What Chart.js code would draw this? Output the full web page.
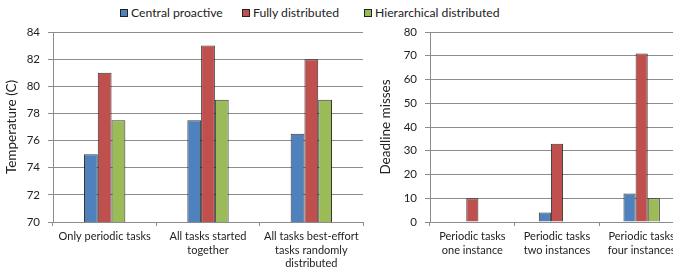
<!DOCTYPE html>
<html>
<head>
<meta charset="utf-8">
<script src="https://cdn.jsdelivr.net/npm/chart.js@4/dist/chart.umd.min.js"></script>
<style>
    html, body { margin: 0; padding: 0; background: #fff; }
    body { width: 673px; height: 272px; overflow: hidden; position: relative; font-family: Lato, sans-serif; color: #222; }
    #tempChart { position: absolute; left: 0; top: 0; }
    #missChart { position: absolute; left: 374px; top: 0; }
    .legend-item { position: absolute; top: 5px; font-size: 12.2px; line-height: 16px; white-space: nowrap; }
    .legend-item i { display: inline-block; width: 6px; height: 6px; border: 1px solid #222; margin-right: 3px; vertical-align: 0px; }
</style>
</head>
<body>

<div id="legend"></div>
<canvas id="tempChart" width="370" height="272"></canvas>
<canvas id="missChart" width="310" height="272"></canvas>

<script>
    let seriesNames = ['Central proactive', 'Fully distributed', 'Hierarchical distributed'];
    let seriesColors = ['#4f81bd', '#c0504d', '#9bbb59'];

    let tempLabels = [['Only periodic tasks'], ['All tasks started', 'together'], ['All tasks best-effort', 'tasks randomly', 'distributed']];
    let tempCentral = [75, 77.5, 76.5];
    let tempFully = [81, 83, 82];
    let tempHierarchical = [77.5, 79, 79];

    let missLabels = [['Periodic tasks', 'one instance'], ['Periodic tasks', 'two instances'], ['Periodic tasks', 'four instances']];
    let missCentral = [0, 4, 12];
    let missFully = [10, 33, 71];
    let missHierarchical = [0, 0, 10];

    let gridColor = '#8c8c8c';
    let textColor = '#222';

    // shared legend across both charts
    let legendX = [120, 242, 364];
    let legend = document.getElementById('legend');
    seriesNames.forEach((name, i) => {
        let item = document.createElement('div');
        item.className = 'legend-item';
        item.style.left = legendX[i] + 'px';
        item.innerHTML = '<i style="background:' + seriesColors[i] + '"></i>' + name;
        legend.appendChild(item);
    });

    let makeDatasets = (rows) => rows.map((data, i) => ({
        label: seriesNames[i],
        data: data,
        backgroundColor: seriesColors[i],
        borderColor: 'rgba(20, 20, 20, 0.85)',
        borderWidth: 1,
        borderSkipped: 'bottom'
    }));

    let renderChart = (canvas, labels, rows, opts) => {
        return new Chart(canvas, {
            type: 'bar',
            data: {
                labels: labels,
                datasets: makeDatasets(rows)
            },
            options: {
                responsive: false,
                animation: false,
                devicePixelRatio: 1,
                datasets: {
                    bar: {
                        categoryPercentage: opts.groupWidth,
                        barPercentage: 1
                    }
                },
                layout: {
                    padding: { top: 32, right: opts.rightPad, bottom: 0, left: 0 }
                },
                plugins: {
                    legend: { display: false },
                    tooltip: { enabled: false }
                },
                scales: {
                    x: {
                        grid: {
                            offset: true,
                            drawOnChartArea: false,
                            tickLength: 4,
                            color: gridColor
                        },
                        border: { color: gridColor },
                        ticks: {
                            color: textColor,
                            font: { family: 'Lato', size: 11, lineHeight: 1.23 },
                            padding: 4,
                            maxRotation: 0,
                            autoSkip: false
                        },
                        afterFit: (scale) => { scale.height = 50; }
                    },
                    y: {
                        min: opts.min,
                        max: opts.max,
                        grid: {
                            color: gridColor,
                            tickLength: 5
                        },
                        border: { color: gridColor },
                        ticks: {
                            stepSize: opts.step,
                            color: textColor,
                            font: { family: 'Lato', size: 11.5 },
                            padding: 8
                        },
                        title: {
                            display: true,
                            text: opts.title,
                            color: textColor,
                            font: { family: 'Lato', size: 13.5 },
                            padding: { top: 4, bottom: 0 }
                        },
                        afterFit: (scale) => { scale.width = opts.axisWidth; }
                    }
                }
            }
        });
    };

    renderChart(document.getElementById('tempChart'), tempLabels,
        [tempCentral, tempFully, tempHierarchical],
        { min: 70, max: 84, step: 2, title: 'Temperature (C)', axisWidth: 53, rightPad: 7, groupWidth: 0.4 });

    renderChart(document.getElementById('missChart'), missLabels,
        [missCentral, missFully, missHierarchical],
        { min: 0, max: 80, step: 10, title: 'Deadline misses', axisWidth: 56, rightPad: 0, groupWidth: 0.43 });
</script>
</body>
</html>
